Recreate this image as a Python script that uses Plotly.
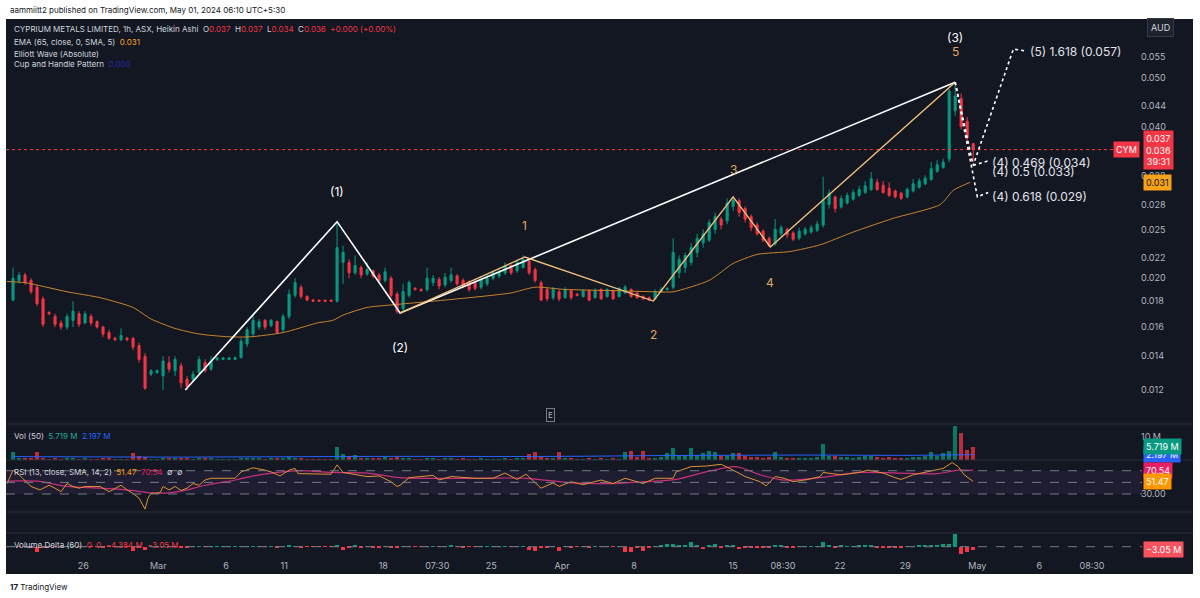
import math
import plotly.graph_objects as go

W, H = 1200, 598

# ---------------- data ----------------
tick_pos = [11.7, 24.2, 35.5, 45.2, 61.7, 70.7, 79.7, 91.5, 103.5, 120.0, 128.3, 137.8, 148.7, 160.7, 171.0, 179.8]
tick_text = ["26", "Mar", "6", "11", "18", "07:30", "25", "Apr", "8", "15", "08:30", "22", "29", "May", "6", "08:30"]

open_ = [0.0181, 0.0198, 0.0203, 0.0198, 0.0192, 0.0182, 0.0171, 0.0168, 0.0163, 0.0160,
         0.0165, 0.0170, 0.0163, 0.0168, 0.0164, 0.0160, 0.0156, 0.0152, 0.0151, 0.0152,
         0.0152, 0.0147, 0.0140, 0.0129, 0.0130, 0.0128, 0.0136, 0.0131, 0.0134, 0.0126,
         0.0126, 0.0130, 0.0136, 0.0132, 0.0138, 0.0138, 0.0138, 0.0138, 0.0139, 0.0148,
         0.0155, 0.0160, 0.0165, 0.0161, 0.0164, 0.0158, 0.0168, 0.0185, 0.0192, 0.0184,
         0.0181, 0.0181, 0.0181, 0.0181, 0.0180, 0.0215, 0.0215, 0.0205, 0.0210, 0.0204,
         0.0207, 0.0203, 0.0198, 0.0200, 0.0186, 0.0174, 0.0185, 0.0191, 0.0190, 0.0190,
         0.0196, 0.0199, 0.0194, 0.0198, 0.0202, 0.0198, 0.0197, 0.0196, 0.0192, 0.0195,
         0.0200, 0.0202, 0.0205, 0.0212, 0.0207, 0.0210, 0.0216, 0.0208, 0.0196, 0.0190,
         0.0183, 0.0188, 0.0183, 0.0189, 0.0186, 0.0184, 0.0189, 0.0183, 0.0190, 0.0184,
         0.0189, 0.0184, 0.0187, 0.0190, 0.0187, 0.0184, 0.0183, 0.0182, 0.0188, 0.0190,
         0.0192, 0.0205, 0.0210, 0.0215, 0.0225, 0.0235, 0.0238, 0.0250, 0.0262, 0.0260,
         0.0278, 0.0285, 0.0275, 0.0265, 0.0255, 0.0248, 0.0240, 0.0234, 0.0245, 0.0250,
         0.0246, 0.0240, 0.0245, 0.0247, 0.0249, 0.0255, 0.0280, 0.0290, 0.0277, 0.0282,
         0.0287, 0.0292, 0.0296, 0.0300, 0.0310, 0.0306, 0.0302, 0.0298, 0.0295, 0.0290,
         0.0298, 0.0303, 0.0308, 0.0314, 0.0326, 0.0332, 0.0345, 0.0430, 0.0455, 0.0410,
         0.0370]
high = [0.0210, 0.0206, 0.0205, 0.0200, 0.0194, 0.0184, 0.0172, 0.0170, 0.0165, 0.0170,
        0.0180, 0.0172, 0.0172, 0.0170, 0.0165, 0.0161, 0.0158, 0.0153, 0.0159, 0.0153,
        0.0153, 0.0149, 0.0142, 0.0132, 0.0132, 0.0140, 0.0140, 0.0140, 0.0136, 0.0128,
        0.0131, 0.0140, 0.0138, 0.0140, 0.0139, 0.0139, 0.0139, 0.0140, 0.0152, 0.0160,
        0.0170, 0.0166, 0.0166, 0.0166, 0.0165, 0.0170, 0.0190, 0.0200, 0.0194, 0.0185,
        0.0182, 0.0181, 0.0181, 0.0181, 0.0259, 0.0232, 0.0218, 0.0222, 0.0212, 0.0215,
        0.0208, 0.0205, 0.0210, 0.0202, 0.0188, 0.0195, 0.0198, 0.0192, 0.0191, 0.0210,
        0.0203, 0.0201, 0.0205, 0.0210, 0.0204, 0.0200, 0.0198, 0.0198, 0.0202, 0.0203,
        0.0207, 0.0208, 0.0215, 0.0213, 0.0218, 0.0222, 0.0218, 0.0210, 0.0198, 0.0192,
        0.0192, 0.0190, 0.0192, 0.0190, 0.0187, 0.0190, 0.0190, 0.0191, 0.0191, 0.0191,
        0.0190, 0.0192, 0.0194, 0.0191, 0.0188, 0.0185, 0.0184, 0.0190, 0.0192, 0.0192,
        0.0240, 0.0222, 0.0225, 0.0235, 0.0245, 0.0250, 0.0262, 0.0270, 0.0265, 0.0288,
        0.0290, 0.0288, 0.0278, 0.0268, 0.0258, 0.0250, 0.0242, 0.0262, 0.0255, 0.0252,
        0.0248, 0.0252, 0.0253, 0.0255, 0.0260, 0.0318, 0.0300, 0.0292, 0.0292, 0.0296,
        0.0300, 0.0305, 0.0312, 0.0325, 0.0315, 0.0312, 0.0310, 0.0300, 0.0297, 0.0303,
        0.0315, 0.0316, 0.0320, 0.0340, 0.0343, 0.0345, 0.0475, 0.0490, 0.0465, 0.0418,
        0.0370]
low = [0.0180, 0.0195, 0.0194, 0.0186, 0.0176, 0.0160, 0.0169, 0.0160, 0.0158, 0.0158,
       0.0160, 0.0160, 0.0162, 0.0161, 0.0159, 0.0153, 0.0151, 0.0150, 0.0150, 0.0150,
       0.0144, 0.0136, 0.0120, 0.0128, 0.0129, 0.0120, 0.0130, 0.0128, 0.0121, 0.0120,
       0.0125, 0.0129, 0.0130, 0.0131, 0.0137, 0.0138, 0.0138, 0.0138, 0.0139, 0.0146,
       0.0153, 0.0158, 0.0158, 0.0160, 0.0155, 0.0156, 0.0166, 0.0183, 0.0182, 0.0180,
       0.0180, 0.0180, 0.0180, 0.0180, 0.0179, 0.0195, 0.0200, 0.0203, 0.0200, 0.0202,
       0.0200, 0.0196, 0.0196, 0.0183, 0.0170, 0.0172, 0.0183, 0.0189, 0.0188, 0.0188,
       0.0193, 0.0190, 0.0192, 0.0196, 0.0193, 0.0191, 0.0188, 0.0189, 0.0190, 0.0193,
       0.0198, 0.0200, 0.0203, 0.0203, 0.0205, 0.0209, 0.0203, 0.0196, 0.0180, 0.0180,
       0.0181, 0.0180, 0.0182, 0.0181, 0.0184, 0.0183, 0.0180, 0.0182, 0.0181, 0.0183,
       0.0181, 0.0183, 0.0186, 0.0183, 0.0182, 0.0181, 0.0180, 0.0181, 0.0187, 0.0189,
       0.0190, 0.0200, 0.0205, 0.0212, 0.0220, 0.0230, 0.0236, 0.0245, 0.0250, 0.0256,
       0.0272, 0.0265, 0.0258, 0.0248, 0.0243, 0.0236, 0.0231, 0.0232, 0.0242, 0.0240,
       0.0237, 0.0238, 0.0243, 0.0245, 0.0247, 0.0252, 0.0275, 0.0270, 0.0275, 0.0280,
       0.0285, 0.0290, 0.0294, 0.0298, 0.0298, 0.0294, 0.0290, 0.0288, 0.0286, 0.0288,
       0.0296, 0.0301, 0.0306, 0.0312, 0.0324, 0.0330, 0.0340, 0.0420, 0.0395, 0.0372,
       0.0340]
close = [0.0200, 0.0203, 0.0196, 0.0188, 0.0178, 0.0162, 0.0170, 0.0162, 0.0160, 0.0168,
         0.0172, 0.0162, 0.0170, 0.0163, 0.0160, 0.0155, 0.0152, 0.0151, 0.0154, 0.0151,
         0.0146, 0.0138, 0.0121, 0.0131, 0.0131, 0.0137, 0.0132, 0.0138, 0.0124, 0.0122,
         0.0129, 0.0138, 0.0131, 0.0137, 0.0139, 0.0139, 0.0139, 0.0139, 0.0150, 0.0158,
         0.0165, 0.0164, 0.0160, 0.0165, 0.0156, 0.0168, 0.0186, 0.0196, 0.0184, 0.0181,
         0.0180, 0.0180, 0.0180, 0.0180, 0.0230, 0.0225, 0.0205, 0.0212, 0.0203, 0.0208,
         0.0202, 0.0198, 0.0206, 0.0185, 0.0172, 0.0188, 0.0196, 0.0190, 0.0189, 0.0200,
         0.0200, 0.0193, 0.0201, 0.0203, 0.0195, 0.0193, 0.0190, 0.0191, 0.0199, 0.0200,
         0.0205, 0.0206, 0.0212, 0.0205, 0.0215, 0.0218, 0.0205, 0.0198, 0.0181, 0.0182,
         0.0190, 0.0182, 0.0190, 0.0183, 0.0185, 0.0189, 0.0181, 0.0189, 0.0182, 0.0190,
         0.0182, 0.0191, 0.0192, 0.0184, 0.0183, 0.0182, 0.0181, 0.0188, 0.0190, 0.0191,
         0.0225, 0.0218, 0.0222, 0.0230, 0.0240, 0.0245, 0.0258, 0.0265, 0.0255, 0.0282,
         0.0286, 0.0270, 0.0262, 0.0252, 0.0245, 0.0238, 0.0232, 0.0250, 0.0252, 0.0244,
         0.0239, 0.0248, 0.0250, 0.0252, 0.0256, 0.0285, 0.0295, 0.0275, 0.0288, 0.0292,
         0.0296, 0.0300, 0.0305, 0.0315, 0.0300, 0.0296, 0.0292, 0.0290, 0.0288, 0.0300,
         0.0308, 0.0312, 0.0316, 0.0330, 0.0336, 0.0340, 0.0470, 0.0460, 0.0400, 0.0380,
         0.0360]

volume_m = [3.5, 0.8, 0.5, 0.6, 3.5, 0.9, 0.3, 0.5, 0.4, 0.6,
            0.8, 0.4, 0.5, 0.3, 0.4, 0.6, 0.5, 0.2, 0.4, 0.2,
            2.8, 1.5, 1.2, 0.3, 0.2, 0.9, 0.5, 0.6, 0.8, 0.5,
            0.4, 0.7, 0.5, 0.6, 0.2, 0.2, 0.2, 0.2, 0.8, 0.7,
            0.9, 0.5, 0.4, 0.5, 0.6, 0.5, 1.2, 0.9, 0.6, 0.4,
            0.2, 0.2, 0.2, 0.2, 5.5, 2.5, 1.2, 2.0, 0.8, 0.9,
            0.6, 0.7, 1.0, 0.8, 1.1, 0.9, 0.7, 0.3, 0.3, 0.6,
            0.5, 0.4, 0.6, 0.9, 0.4, 0.5, 0.4, 0.3, 0.5, 0.4,
            0.3, 0.4, 0.5, 0.4, 0.6, 0.5, 2.4, 3.2, 1.2, 0.8,
            0.5, 3.5, 0.5, 0.6, 0.3, 0.4, 0.5, 0.4, 0.5, 0.4,
            0.5, 0.4, 3.5, 3.8, 1.0, 3.8, 0.8, 0.9, 1.2, 3.0,
            5.0, 1.5, 2.0, 5.0, 1.8, 2.8, 4.0, 3.2, 1.5, 1.8,
            2.8, 3.0, 1.5, 1.2, 1.0, 0.8, 1.0, 3.5, 1.2, 0.8,
            0.9, 0.7, 0.8, 0.9, 1.0, 6.9, 1.5, 1.5, 1.2, 1.0,
            0.9, 1.2, 1.8, 1.5, 1.0, 0.8, 1.2, 0.7, 0.8, 0.9,
            1.0, 1.2, 1.4, 3.5, 1.5, 3.0, 4.0, 14.8, 11.7, 4.2,
            5.719]
vol_ma_x = [0, 30, 60, 90, 110, 130, 150, 160]
vol_ma = [1.3, 1.1, 1.4, 1.4, 1.8, 2.0, 1.9, 2.197]

delta_m = [0.5, -0.3, 0.2, -0.4, -5.0, -0.6, 0.2, -0.3, 0.2, 0.3,
           0.4, -0.3, 0.3, -0.2, -0.3, -0.4, -0.3, 0.1, 0.3, -0.1,
           -4.0, -1.0, -3.0, 0.2, 0.2, 0.5, -0.3, 0.4, -0.6, -0.4,
           0.3, 0.5, -0.3, 0.4, 0.1, 0.1, 0.1, 0.1, 0.6, 0.5,
           0.6, 0.3, -0.3, 0.3, -0.4, 0.4, 1.0, 0.6, -0.5, -0.3,
           -0.1, -0.1, -0.1, -0.1, 1.5, -3.5, -0.8, 1.0, -0.5, 0.6,
           -0.4, -0.5, 0.6, -0.6, -0.8, 0.6, 0.5, -0.2, -0.2, 0.4,
           0.3, -0.3, 0.4, 1.0, -0.3, -0.4, -0.3, -0.2, 0.3, 0.3,
           0.2, 0.3, 0.4, -0.3, 0.4, 0.3, -3.0, -4.0, -0.8, -0.6,
           0.3, -4.0, 0.3, -0.4, -0.2, 0.3, -0.4, 0.3, -0.3, 0.3,
           -0.3, 0.3, -5.0, -5.0, -0.6, -4.0, -0.5, 0.6, 0.8, 3.0,
           3.0, 1.0, 1.5, 5.0, 1.2, -2.0, 2.0, 3.0, -1.0, 1.2,
           2.0, -2.0, -1.0, -0.8, -0.6, -0.5, -0.6, 2.0, 0.8, -0.5,
           -0.6, 0.5, 0.5, 0.6, 0.7, 5.0, 1.0, -1.0, 0.8, 0.7,
           0.6, 0.8, 1.2, 1.0, -0.7, -0.5, -0.8, -0.5, -0.5, 0.6,
           0.7, 0.8, 1.0, 2.0, 1.0, 3.0, 3.0, 12.5, -7.0, -5.0,
           -3.05]

ema_x = [-1, 2, 9, 14.5, 20, 23, 27, 31, 36, 39.5, 45, 50.7, 53.3, 55, 59, 63, 72, 78, 83, 87,
         92, 100, 107, 110, 116, 120, 124, 129.5, 134.5, 140, 146.7, 154.5, 156.7, 159.5]
ema = [0.0197, 0.0196, 0.0188, 0.0183, 0.0175, 0.0166, 0.0159, 0.0155, 0.0153, 0.0153,
       0.0156, 0.0163, 0.0165, 0.0169, 0.0175, 0.0177, 0.0181, 0.0184, 0.0187, 0.0192,
       0.0190, 0.0189, 0.0188, 0.0188, 0.0198, 0.0214, 0.0223, 0.0226, 0.0233, 0.0247,
       0.0263, 0.0280, 0.0299, 0.0310]

rsi_x = [-1, 0, 1, 3, 4.5, 6, 7, 8, 9, 10, 11, 12, 14.5, 16, 18, 19, 20, 21, 22, 22.5,
         23, 24.5, 25, 26, 27, 28, 29, 30, 31, 32, 33, 37, 38, 39, 40, 42, 43, 44.5, 46, 47,
         47.5, 53, 54, 55, 57, 59, 61, 63, 64, 64.5, 66, 70, 71, 73, 77, 80, 82, 84, 85.5, 88,
         90, 91, 93, 95, 98, 100, 102, 105, 107, 110, 110.5, 113, 115.5, 118, 120, 122, 124.5, 125.5, 127, 128.5,
         130, 132.5, 134.5, 135, 138, 141, 142.5, 145, 147, 148, 150, 152.5, 155, 156.5, 157.5, 158.5, 160]
rsi = [48, 71, 63, 43, 37, 45, 40, 34, 48, 43, 40, 43, 43, 34, 45, 37, 31, 23, 4, 23,
       31, 32, 43, 37, 43, 36, 40, 48, 45, 54, 57, 57, 68, 72, 75, 71, 68, 61, 71, 74,
       65, 64, 80, 67, 63, 60, 61, 51, 43, 45, 58, 62, 54, 60, 57, 57, 66, 55, 64, 40,
       49, 43, 51, 46, 54, 48, 57, 48, 57, 57, 68, 77, 78, 81, 71, 60, 51, 44, 60, 57,
       51, 55, 60, 67, 63, 67, 71, 66, 58, 55, 63, 68, 74, 84, 77, 63, 51.47]
rsi_ma_x = [-1, 4, 9, 14.5, 19, 23, 26, 29, 32, 37, 41, 45, 48, 53, 59, 64.5, 77, 85.5, 93, 100,
            105, 110.5, 115.5, 120.5, 124.5, 128.5, 134.5, 141, 147.5, 154, 157.5, 160]
rsi_ma = [52, 52, 43, 40, 37, 32, 32, 37, 45, 54, 63, 68, 70, 67, 66, 58, 57, 57, 49, 48,
          51, 55, 68, 77, 63, 54, 58, 67, 66, 65, 71, 70.54]

wave_x = [28.7, 54, 64.5, 157]
wave_p = [0.0120, 0.0259, 0.01706, 0.0490]
sub_x = [64.5, 85.3, 106.7, 120, 126.2, 157]
sub_p = [0.01706, 0.02204, 0.01802, 0.0290, 0.02307, 0.0490]
proj1_x = [157, 160.7, 162.5]
proj1_p = [0.0490, 0.0290, 0.0296]
proj2_x = [157, 160.0, 166.7, 168.8]
proj2_p = [0.0490, 0.0335, 0.0570, 0.0565]
proj3_x = [160.0, 162.5]
proj3_p = [0.0335, 0.0342]

price_ticks = [0.012, 0.014, 0.016, 0.018, 0.020, 0.022, 0.025, 0.028, 0.032, 0.040, 0.044, 0.050, 0.055]
last_price = 0.036
ema_last = 0.031

# ---------------- styling ----------------
UP = "#089981"
DN = "#f23645"
BG = "#131722"
TXT = "#d1d4dc"
AX = "#b2b5be"
FONT = "Inter, Roboto, sans-serif"


def px(x):
    return x / W


def py(y):
    return 1 - y / H


idx = list(range(len(close)))
X0, X1 = -1.17, 187.8

fig = go.Figure()

fig.add_trace(go.Candlestick(
    x=idx, open=open_, high=high, low=low, close=close,
    increasing=dict(line=dict(color=UP, width=1), fillcolor=UP),
    decreasing=dict(line=dict(color=DN, width=1), fillcolor=DN),
    whiskerwidth=0, hoverinfo="skip", showlegend=False, yaxis="y"))

fig.add_trace(go.Scatter(x=ema_x, y=ema, mode="lines", yaxis="y",
                         line=dict(color="#c8852f", width=1, shape="spline", smoothing=0.6),
                         hoverinfo="skip", showlegend=False))
fig.add_trace(go.Scatter(x=[X0, X1], y=[last_price, last_price], mode="lines", yaxis="y",
                         line=dict(color=DN, width=1, dash="dot"), hoverinfo="skip", showlegend=False))
fig.add_trace(go.Scatter(x=wave_x, y=wave_p, mode="lines", yaxis="y",
                         line=dict(color="#ffffff", width=1.6), hoverinfo="skip", showlegend=False))
fig.add_trace(go.Scatter(x=sub_x, y=sub_p, mode="lines", yaxis="y",
                         line=dict(color="#f3c07c", width=1.4), hoverinfo="skip", showlegend=False))
for xs, ps in [(proj1_x, proj1_p), (proj2_x, proj2_p), (proj3_x, proj3_p)]:
    fig.add_trace(go.Scatter(x=xs, y=ps, mode="lines", yaxis="y",
                             line=dict(color="#ffffff", width=1.6, dash="dot"),
                             hoverinfo="skip", showlegend=False))

vol_colors = ["rgba(8,153,129,0.75)" if c >= o else "rgba(242,54,69,0.75)" for o, c in zip(open_, close)]
fig.add_trace(go.Bar(x=idx, y=volume_m, marker=dict(color=vol_colors, line=dict(width=0)),
                     width=0.6, yaxis="y2", hoverinfo="skip", showlegend=False))
fig.add_trace(go.Scatter(x=vol_ma_x, y=vol_ma, mode="lines", yaxis="y2",
                         line=dict(color="#2962ff", width=1, shape="spline"), hoverinfo="skip", showlegend=False))

fig.add_trace(go.Scatter(x=rsi_ma_x, y=rsi_ma, mode="lines", yaxis="y3",
                         line=dict(color="#c9307a", width=1.2, shape="spline", smoothing=0.8),
                         hoverinfo="skip", showlegend=False))
fig.add_trace(go.Scatter(x=rsi_x, y=rsi, mode="lines", yaxis="y3",
                         line=dict(color="#e0922f", width=1), hoverinfo="skip", showlegend=False))

delta_colors = [UP if v >= 0 else DN for v in delta_m]
fig.add_trace(go.Bar(x=idx, y=delta_m, marker=dict(color=delta_colors, line=dict(width=0)),
                     width=0.6, yaxis="y4", hoverinfo="skip", showlegend=False))

# ---------------- shapes ----------------
shapes = [
    dict(type="rect", xref="paper", yref="paper", x0=px(6), x1=px(1193), y0=py(574), y1=py(19),
         fillcolor=BG, line=dict(width=0), layer="below"),
]
for yy in [424, 460, 512, 533]:
    shapes.append(dict(type="line", xref="paper", yref="paper", x0=px(6), x1=px(1193), y0=py(yy), y1=py(yy),
                       line=dict(color="#2a2e39", width=1)))
shapes.append(dict(type="rect", xref="paper", yref="y3", x0=px(6), x1=px(1142), y0=30, y1=70,
                   fillcolor="rgba(126,87,194,0.10)", line=dict(width=0), layer="below"))
for lv in [70, 50, 30]:
    shapes.append(dict(type="line", xref="paper", yref="y3", x0=px(6), x1=px(1142), y0=lv, y1=lv,
                       line=dict(color="#787b86", width=1, dash="dash")))
shapes.append(dict(type="line", xref="paper", yref="y4", x0=px(6), x1=px(1142), y0=0, y1=0,
                   line=dict(color="#787b86", width=1, dash="dash")))

# ---------------- annotations ----------------
ann = []


def txt(x, y, s, color=TXT, size=8, xanchor="left", **kw):
    d = dict(x=px(x), y=py(y), xref="paper", yref="paper", text=s, showarrow=False,
             font=dict(color=color, size=size, family=FONT), xanchor=xanchor, yanchor="middle")
    d.update(kw)
    ann.append(d)


def red(s):
    return f"<span style='color:{DN}'>{s}</span>"


sp = "&nbsp;&nbsp;"
txt(8, 10, "aammiitt2 published on TradingView.com, May 01, 2024 06:10 UTC+5:30", color="#131722")
txt(12, 29, "CYPRIUM METALS LIMITED, 1h, ASX, Heikin Ashi" + sp + "O" + red("0.037") + sp + "H" + red("0.037")
    + sp + "L" + red("0.034") + sp + "C" + red("0.036") + sp + red("+0.000 (+0.00%)"))
txt(12, 42, "EMA (65, close, 0, SMA, 5)" + sp + "<span style='color:#f5a623'>0.031</span>")
txt(12, 54, "Elliott Wave (Absolute)")
txt(12, 64, "Cup and Handle Pattern" + sp + "<span style='color:#2126a8'>0.000</span>")
txt(12, 436, "Vol (50)" + sp + "<span style='color:#22ab94'>5.719 M</span>" + sp
    + "<span style='color:#2962ff'>2.197 M</span>")
txt(12, 472, "RSI (13, close, SMA, 14, 2)" + sp + "<span style='color:#ff9800'>51.47</span>" + sp
    + "<span style='color:#e91e63'>70.54</span>" + sp + "∅" + sp + "∅")
txt(12, 545, "Volume Delta (60)" + sp + red("0" + sp + "0" + sp + "−4.384 M" + sp + "−3.05 M"))
txt(8, 587, "<b>17</b>&nbsp;TradingView", color="#131722")


# wave labels (data anchored)
def wlabel(i, p, s, color):
    ann.append(dict(x=i, y=math.log10(p), xref="x", yref="y", text=s, showarrow=False,
                    font=dict(color=color, size=12, family=FONT), xanchor="center", yanchor="middle"))


wlabel(54, 0.0297, "(1)", "#ffffff")
wlabel(64.5, 0.0146, "(2)", "#ffffff")
wlabel(157, 0.0600, "(3)", "#ffffff")
OR = "#e0a760"
wlabel(85.3, 0.0255, "1", OR)
wlabel(106.7, 0.0155, "2", OR)
wlabel(120, 0.0328, "3", OR)
wlabel(126.2, 0.0196, "4", OR)
wlabel(157, 0.0563, "5", OR)


def plabel(i, p, s):
    ann.append(dict(x=i, y=math.log10(p), xref="x", yref="y", text=s, showarrow=False,
                    font=dict(color="#e0e3eb", size=12, family=FONT), xanchor="left", yanchor="middle"))


plabel(162.8, 0.0339, "(4) 0.469 (0.034)")
plabel(162.8, 0.0326, "(4) 0.5 (0.033)")
plabel(162.8, 0.0290, "(4) 0.618 (0.029)")
plabel(169.2, 0.0563, "(5) 1.618 (0.057)")

# earnings marker
ann.append(dict(x=89.5, y=py(415), xref="x", yref="paper", text="E", showarrow=False,
                font=dict(color=AX, size=8, family=FONT), bordercolor="#787b86", borderwidth=1,
                borderpad=1, bgcolor=BG, xanchor="center", yanchor="middle"))


# axis boxes
def box(y, yref, s, bg, fg="#ffffff", x=1143, xanchor="left", size=9):
    ann.append(dict(x=px(x), y=y, xref="paper", yref=yref, text=s, showarrow=False,
                    font=dict(color=fg, size=size, family=FONT), bgcolor=bg, borderpad=2,
                    xanchor=xanchor, yanchor="middle"))


ann.append(dict(x=px(1147), y=py(28), xref="paper", yref="paper", text="AUD", showarrow=False,
                font=dict(color=TXT, size=9, family=FONT), bgcolor="#1e222d", bordercolor="#363a45",
                borderwidth=1, borderpad=3, xanchor="left", yanchor="middle"))
box(math.log10(0.0359), "y", "0.037<br>0.036<br>39:31", DN)
box(math.log10(last_price), "y", "CYM", DN, x=1140, xanchor="right")
box(math.log10(ema_last), "y", "0.031", "#f7a21b", fg="#131722")
box(2.197, "y2", "2.197 M", "#2962ff")
box(5.719, "y2", "5.719 M", "#089981")
box(70.54, "y3", "70.54", "#e91e63")
box(51.47, "y3", "51.47", "#ff9800")
box(-3.05, "y4", "−3.05 M", "#f7525f")

axis_common = dict(showgrid=False, zeroline=False, showline=False, ticks="",
                   tickfont=dict(size=9, color=AX, family=FONT), fixedrange=True)

fig.update_layout(
    width=W, height=H, autosize=False,
    margin=dict(l=0, r=0, t=0, b=0),
    paper_bgcolor="#ffffff", plot_bgcolor="rgba(0,0,0,0)",
    font=dict(family=FONT, color=TXT),
    showlegend=False, boxgap=0.5, bargap=0,
    xaxis=dict(domain=[px(6), px(1140)], range=[X0, X1], anchor="free", position=py(559),
               tickvals=tick_pos, ticktext=tick_text, rangeslider=dict(visible=False), **axis_common),
    yaxis=dict(domain=[py(423), py(20)], type="log", range=[math.log10(0.01032), math.log10(0.0651)],
               side="right", anchor="x", tickvals=price_ticks,
               ticktext=[f"{v:.3f}" for v in price_ticks], **axis_common),
    yaxis2=dict(domain=[py(460), py(424)], range=[-0.2, 15.8], side="right", anchor="x",
                tickvals=[10], ticktext=["10 M"], **axis_common),
    yaxis3=dict(domain=[py(512), py(460)], range=[-0.9, 88.4], side="right", anchor="x",
                tickvals=[30], ticktext=["30.00"], **axis_common),
    yaxis4=dict(domain=[py(556), py(533)], range=[-9.3, 13.7], side="right", anchor="x",
                showticklabels=False, **axis_common),
    shapes=shapes, annotations=ann,
)

fig.write_html("out.html")
